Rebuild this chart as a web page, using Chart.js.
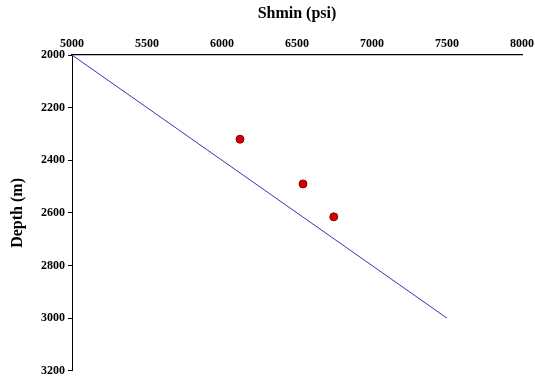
<!DOCTYPE html>
<html>
<head>
<meta charset="utf-8">
<script src="https://cdn.jsdelivr.net/npm/chart.js@4.4.0/dist/chart.umd.min.js"></script>
<style>
  html, body { margin: 0; padding: 0; background: #fff; }
  #wrap { width: 535px; height: 381px; }
</style>
</head>
<body>
<div id="wrap"><canvas id="canvas"></canvas></div>
<script>
// measured Shmin points
const shminPsi = [6120, 6540, 6745];
const shminDepth = [2320, 2490, 2615];
// gradient line
const lineP = [5000, 7500];
const lineDepth = [2000, 3000];

const xTicks = [5000, 5500, 6000, 6500, 7000, 7500, 8000];
const yTicks = [2000, 2200, 2400, 2600, 2800, 3000, 3200];

const serif = "'Liberation Serif', 'Times New Roman', serif";

const ctx = document.getElementById("canvas").getContext("2d");
const chart = new Chart(ctx, {
  type: "scatter",
  data: {
    datasets: [
      {
        label: "gradient",
        data: lineP.map((p, i) => ({ x: p, y: lineDepth[i] })),
        showLine: true,
        borderColor: "#3535c0",
        borderWidth: 1,
        pointRadius: 0,
        fill: false,
      },
      {
        label: "Shmin",
        data: shminPsi.map((p, i) => ({ x: p, y: shminDepth[i] })),
        backgroundColor: "#d00000",
        borderColor: "#8a0000",
        borderWidth: 1,
        pointRadius: 4,
      },
    ],
  },
  options: {
    responsive: true,
    maintainAspectRatio: false,
    animation: false,
    layout: { padding: { left: 0, right: 13, top: 0, bottom: 10 } },
    plugins: {
      legend: { display: false },
      tooltip: { enabled: false },
    },
    scales: {
      x: {
        type: "linear",
        position: "top",
        min: 5000,
        max: 8000,
        afterBuildTicks: (scale) => {
          scale.ticks = xTicks.map((v) => ({ value: v }));
        },
        afterFit: (scale) => {
          scale.height = 55;
          scale.paddingRight = 0;
        },
        grid: { display: true, drawOnChartArea: false, drawTicks: false },
        border: { display: true, color: "#000", width: 1.2 },
        ticks: {
          color: "#000",
          padding: 4,
          maxRotation: 0,
          callback: (v) => String(v),
          font: { family: serif, size: 12, weight: "bold" },
        },
        title: {
          display: true,
          text: "Shmin (psi)",
          color: "#000",
          padding: { top: 4, bottom: 8 },
          font: { family: serif, size: 16, weight: "bold" },
        },
      },
      y: {
        type: "linear",
        reverse: true,
        min: 2000,
        max: 3200,
        afterBuildTicks: (scale) => {
          scale.ticks = yTicks.map((v) => ({ value: v }));
        },
        afterFit: (scale) => {
          scale.width = 72;
        },
        grid: {
          display: true,
          drawOnChartArea: false,
          drawTicks: true,
          tickLength: 4,
          color: "#000",
        },
        border: { display: true, color: "#000", width: 1 },
        ticks: {
          color: "#000",
          padding: 3,
          callback: (v) => String(v),
          font: { family: serif, size: 12, weight: "bold" },
        },
        title: {
          display: true,
          text: "Depth (m)",
          color: "#000",
          padding: { top: 8, bottom: 0 },
          font: { family: serif, size: 16, weight: "bold" },
        },
      },
    },
  },
});
</script>
</body>
</html>
